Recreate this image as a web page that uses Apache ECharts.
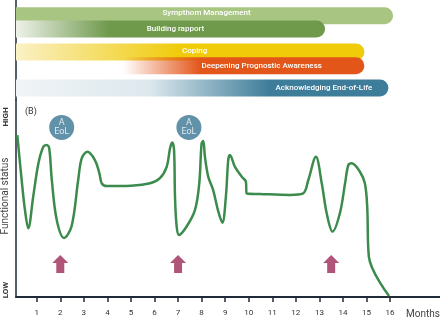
<!DOCTYPE html>
<html>
<head>
<meta charset="utf-8">
<script src="https://cdn.jsdelivr.net/npm/echarts@6/dist/echarts.min.js"></script>
<style>html,body{margin:0;padding:0;background:#fff;}#c{width:440px;height:321px;}</style>
</head>
<body>
<div id="c"></div>
<script>
// ---- data ----
const monthTicks = [1,2,3,4,5,6,7,8,9,10,11,12,13,14,15,16];
const phaseNames = ['Sympthom Management','Building rapport','Coping','Deepening Prognostic Awareness','Acknowledging End-of-Life'];
const phaseStart = [0.12, 0.12, 0.12, 4.67, 0.12];
const phaseEnd   = [16.13, 13.24, 14.91, 14.91, 15.93];
const curveMonths = [0.175,0.36,0.50,0.64,0.85,1.07,1.28,1.42,1.53,1.64,1.85,2.16,2.48,2.76,2.91,3.15,3.47,3.66,3.76,3.97,5.0,5.81,6.23,6.52,6.66,6.75,6.83,6.87,6.94,7.04,7.37,7.72,7.90,8.00,8.07,8.14,8.28,8.49,8.71,8.88,9.03,9.13,9.20,9.41,9.70,9.88,9.91,10.47,11.75,12.31,12.53,12.85,13.10,13.31,13.56,13.87,14.09,14.23,14.37,14.72,14.93,15.03,15.10,15.96];
const curveStatus = [82.2,59.4,44.2,34.9,50.9,67.8,76.3,77.2,75.5,59.4,39.1,30.0,35.9,59.4,70.4,73.7,69.5,62.8,57.7,56.3,56.5,57.7,60.3,66.2,75.5,78.4,74.6,50.9,35.9,31.5,35.9,44.2,57.7,78.0,79.2,71.2,61.1,54.3,43.3,37.7,50.9,69.5,72.1,66.2,61.1,58.5,52.6,52.3,51.8,52.6,59.4,71.2,57.7,42.5,33.2,42.5,57.7,67.0,67.9,63.6,57.7,45.8,20.5,0.5];
const arrowMonths = [2, 7, 13.5];
const arrowLevel = [16.8, 16.8, 16.8];
const eolMonths = [2.06, 7.46];
const eolLevel = [86.1, 86.1];

// ---- layout / style ----
const laneY = [15.7, 29, 52, 65.7, 88];
const labelDy = [-2.5, 0, -1, 0, 0];
const labelAt = [8.21, 6.89, 7.70, 10.55, 13.19];
const barH = 17;
const gradStops = [
  [[0,'#a9c582'],[1,'#a9c582']],
  [[0,'#eef2ea'],[0.3,'#6f9a4c'],[1,'#6f9a4c']],
  [[0,'#faf1c6'],[0.47,'#f0cb0a'],[1,'#f0cb0a']],
  [[0,'rgba(227,86,26,0)'],[0.32,'#e3561a'],[1,'#e3561a']],
  [[0,'#f0f4f6'],[0.36,'#dde8ee'],[0.68,'#3e7d99'],[1,'#3e7d99']]
];
const axisColor = '#1f2b38';
const font = 'Roboto, "Noto Sans", sans-serif';

const chart = echarts.init(document.getElementById('c'), null, {renderer:'canvas'});
const xMin = 0.12, xMax = 18.12;

chart.setOption({
  animation: false,
  grid: [
    {left:16, right:0, top:0, height:100},
    {left:16, right:0, top:100, bottom:24}
  ],
  xAxis: [
    {gridIndex:0, type:'value', min:xMin, max:xMax, show:false},
    {gridIndex:1, type:'value', min:xMin, max:xMax,
     axisLine:{show:true, lineStyle:{color:axisColor, width:2}},
     axisTick:{show:true, customValues: monthTicks, length:5, lineStyle:{color:axisColor, width:1.5}},
     axisLabel:{show:true, customValues: monthTicks, fontSize:8, color:'#333', margin:12, fontFamily:font},
     splitLine:{show:false}}
  ],
  yAxis: [
    {gridIndex:0, type:'value', min:0, max:100, inverse:true,
     axisLine:{show:true, lineStyle:{color:axisColor, width:1.5}},
     axisTick:{show:false}, axisLabel:{show:false}, splitLine:{show:false}},
    {gridIndex:1, type:'value', min:0, max:100,
     axisLine:{show:true, lineStyle:{color:axisColor, width:1.5}},
     axisTick:{show:false}, axisLabel:{show:false}, splitLine:{show:false}}
  ],
  graphic: [
    {type:'text', left:406, top:309, style:{text:'Months', fontSize:10, fill:'#444', fontFamily:font}},
    {type:'text', x:5, y:196, rotation:Math.PI/2, style:{text:'Functional status', fontSize:10, fill:'#444', fontFamily:font, align:'center', verticalAlign:'middle'}},
    {type:'text', x:6, y:117, rotation:Math.PI/2, style:{text:'HIGH', fontSize:8, fontWeight:'bold', fill:'#333', fontFamily:font, align:'center', verticalAlign:'middle'}},
    {type:'text', x:6, y:290, rotation:Math.PI/2, style:{text:'LOW', fontSize:8, fontWeight:'bold', fill:'#333', fontFamily:font, align:'center', verticalAlign:'middle'}},
    {type:'text', left:25, top:107, style:{text:'(B)', fontSize:9, fill:'#333', fontFamily:font}}
  ],
  series: [
    {
      type:'custom', xAxisIndex:0, yAxisIndex:0,
      data: phaseNames.map((n,i)=>[phaseStart[i], phaseEnd[i], i]),
      renderItem: function(params, api){
        const i = api.value(2);
        const p0 = api.coord([api.value(0), laneY[i]]);
        const p1 = api.coord([api.value(1), laneY[i]]);
        const lp = api.coord([labelAt[i], laneY[i]]);
        const w = p1[0]-p0[0];
        return {
          type:'group',
          children:[
            {type:'rect', shape:{x:p0[0], y:p0[1]-barH/2, width:w, height:barH, r:[0,barH/2,barH/2,0]},
             style:{fill:new echarts.graphic.LinearGradient(0,0,1,0, gradStops[i].map(s=>({offset:s[0], color:s[1]})))}},
            {type:'text', style:{x:lp[0], y:lp[1]+labelDy[i], text:phaseNames[i], fill:'#fff', fontSize:8, fontWeight:500, fontFamily:font, align:'center', verticalAlign:'middle'}}
          ]
        };
      }
    },
    {
      type:'line', xAxisIndex:1, yAxisIndex:1,
      data: curveMonths.map((m,i)=>[m, curveStatus[i]]),
      smooth:0.35, symbol:'none',
      lineStyle:{color:'#3b8b4c', width:2.5}
    },
    {
      type:'scatter', xAxisIndex:1, yAxisIndex:1,
      data: arrowMonths.map((m,i)=>[m, arrowLevel[i]]),
      symbol:'path://M8,0 L16,8 L12,8 L12,18 L4,18 L4,8 L0,8 Z',
      symbolSize:[16,18], itemStyle:{color:'#9c2a58'}
    },
    {
      type:'scatter', xAxisIndex:1, yAxisIndex:1,
      data: eolMonths.map((m,i)=>[m, eolLevel[i]]),
      symbol:'circle', symbolSize:25, itemStyle:{color:'#3b7793'},
      label:{show:true, position:'inside', formatter:'A\nEoL', color:'#fff', fontSize:9, lineHeight:9, fontFamily:font}
    }
  ]
});
</script>
</body>
</html>
